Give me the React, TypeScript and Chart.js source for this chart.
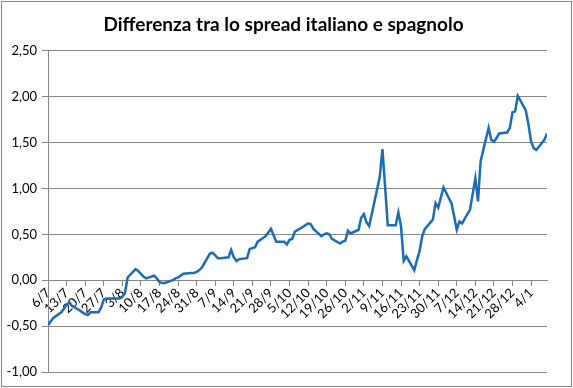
import React, { useEffect, useRef } from "react";
import { Chart, registerables } from "chart.js";

Chart.register(...registerables);

const TITLE = "Differenza tra lo spread italiano e spagnolo";

// Weekly tick labels (day/month), one every 7 days starting 6 July
const weekLabels = [
  "6/7", "13/7", "20/7", "27/7", "3/8", "10/8", "17/8", "24/8", "31/8",
  "7/9", "14/9", "21/9", "28/9", "5/10", "12/10", "19/10", "26/10",
  "2/11", "9/11", "16/11", "23/11", "30/11", "7/12", "14/12", "21/12",
  "28/12", "4/1",
];

// Business days, as day offsets from 6 July
const dayOffsets = [
  0, 1, 2, 5, 6,
  7, 8, 9, 12, 13,
  14, 15, 16, 19, 20,
  21, 22, 23, 26, 27,
  28, 29, 30, 33, 34,
  35, 36, 37, 40, 41,
  42, 43, 44, 47, 48,
  49, 50, 51, 54, 55,
  56, 57, 58, 61, 62,
  63, 64, 65, 68, 69,
  70, 71, 72, 75, 76,
  77, 78, 79, 82, 83,
  84, 85, 86, 89, 90,
  91, 92, 93, 96, 97,
  98, 99, 100, 103, 104,
  105, 106, 107, 110, 111,
  112, 113, 114, 117, 118,
  119, 120, 121, 124, 125,
  126, 127, 128, 131, 132,
  133, 134, 135, 138, 139,
  140, 141, 142, 145, 146,
  147, 148, 149, 152, 153,
  154, 155, 156, 159, 160,
  161, 162, 163, 166, 167,
  168, 169, 170, 173, 174,
  175, 176, 177, 180, 181,
  182, 183, 184, 187, 188,
];

// Spread difference (Italy - Spain), percentage points
const spreadValues = [
  -0.49, -0.45, -0.41, -0.35, -0.31,
  -0.27, -0.24, -0.28, -0.33, -0.35,
  -0.37, -0.38, -0.35, -0.35, -0.30,
  -0.21, -0.20, -0.20, -0.20, -0.20,
  -0.18, -0.14, 0.03, 0.12, 0.10,
  0.07, 0.04, 0.02, 0.05, 0.02,
  -0.02, -0.03, -0.03, 0.00, 0.02,
  0.03, 0.05, 0.07, 0.08, 0.08,
  0.09, 0.11, 0.14, 0.29, 0.30,
  0.27, 0.24, 0.24, 0.25, 0.33,
  0.25, 0.21, 0.23, 0.24, 0.34,
  0.35, 0.36, 0.42, 0.48, 0.52,
  0.56, 0.49, 0.42, 0.42, 0.39,
  0.44, 0.45, 0.53, 0.58, 0.60,
  0.62, 0.61, 0.56, 0.48, 0.50,
  0.51, 0.50, 0.45, 0.40, 0.42,
  0.43, 0.54, 0.51, 0.55, 0.68,
  0.72, 0.63, 0.59, 0.99, 1.13,
  1.43, 1.02, 0.60, 0.60, 0.74,
  0.59, 0.21, 0.26, 0.11, 0.22,
  0.32, 0.48, 0.56, 0.66, 0.84,
  0.79, 0.90, 1.01, 0.84, 0.70,
  0.55, 0.64, 0.62, 0.77, 0.94,
  1.11, 0.86, 1.30, 1.66, 1.53,
  1.51, 1.55, 1.60, 1.61, 1.66,
  1.83, 1.84, 2.01, 1.85, 1.70,
  1.51, 1.44, 1.42, 1.53, 1.60,
];

const Y_MIN = -1;
const Y_MAX = 2.5;
const Y_STEP = 0.5;
const LAST_DAY = 188;

const FONT = "Lato, Carlito, Calibri, 'Open Sans', sans-serif";
const GRID = "#868686";

const frame = {
  id: "frame",
  beforeDraw(chart: any) {
    const ctx = chart.ctx;
    ctx.save();
    ctx.fillStyle = "#ffffff";
    ctx.fillRect(0, 0, chart.width, chart.height);
    ctx.strokeStyle = "#868686";
    ctx.lineWidth = 1;
    ctx.strokeRect(1.5, 1.5, chart.width - 3, chart.height - 3);
    ctx.restore();
  },
};

export default function App() {
  const ref = useRef<HTMLCanvasElement | null>(null);

  useEffect(() => {
    document.body.style.margin = "0";
    const canvas = ref.current;
    if (!canvas) return;
    const chart = new Chart(canvas, {
      type: "line",
      data: {
        datasets: [
          {
            label: TITLE,
            data: dayOffsets.map((d, i) => ({ x: d, y: spreadValues[i] })),
            borderColor: "#1c6cb6",
            borderWidth: 2.5,
            pointRadius: 0,
            tension: 0,
            fill: false,
          },
        ],
      },
      options: {
        animation: false,
        responsive: false,
        devicePixelRatio: 1,
        layout: { padding: { left: 0, right: 6, top: 0, bottom: 16 } },
        plugins: {
          legend: { display: false },
          tooltip: { enabled: false },
          title: {
            display: true,
            text: TITLE,
            color: "#000000",
            font: { family: FONT, size: 19, weight: "bold" },
            padding: { top: 13, bottom: 15 },
          },
        },
        scales: {
          x: {
            type: "linear",
            min: 0,
            max: LAST_DAY,
            position: { y: 0 } as any,
            grid: {
              drawOnChartArea: false,
              drawTicks: true,
              tickLength: 5,
              color: GRID,
            },
            border: { color: GRID, width: 1 },
            ticks: {
              stepSize: 7,
              includeBounds: false,
              autoSkip: false,
              maxRotation: 45,
              minRotation: 45,
              padding: 0,
              color: "#000000",
              font: { family: FONT, size: 13 },
              callback: (v: any) => {
                const n = Number(v);
                if (n % 7 !== 0) return "";
                return weekLabels[n / 7] ?? "";
              },
            },
          },
          y: {
            min: Y_MIN,
            max: Y_MAX,
            afterFit: (s: any) => {
              s.width = 48;
            },
            grid: {
              color: GRID,
              drawTicks: true,
              tickLength: 6,
            },
            border: { color: GRID, width: 1 },
            ticks: {
              stepSize: Y_STEP,
              padding: 5,
              color: "#000000",
              font: { family: FONT, size: 13 },
              callback: (v: any) => Number(v).toFixed(2).replace(".", ","),
            },
          },
          spacer: {
            type: "linear",
            position: "right",
            display: true,
            afterFit: (s: any) => {
              s.width = 20;
            },
            grid: { display: false, drawTicks: false },
            border: { display: false },
            ticks: { display: false },
          },
        },
      },
      plugins: [frame],
    });
    return () => chart.destroy();
  }, []);

  return (
    <div style={{ width: 573, height: 388 }}>
      <canvas ref={ref} width={573} height={388} style={{ display: "block" }} />
    </div>
  );
}
